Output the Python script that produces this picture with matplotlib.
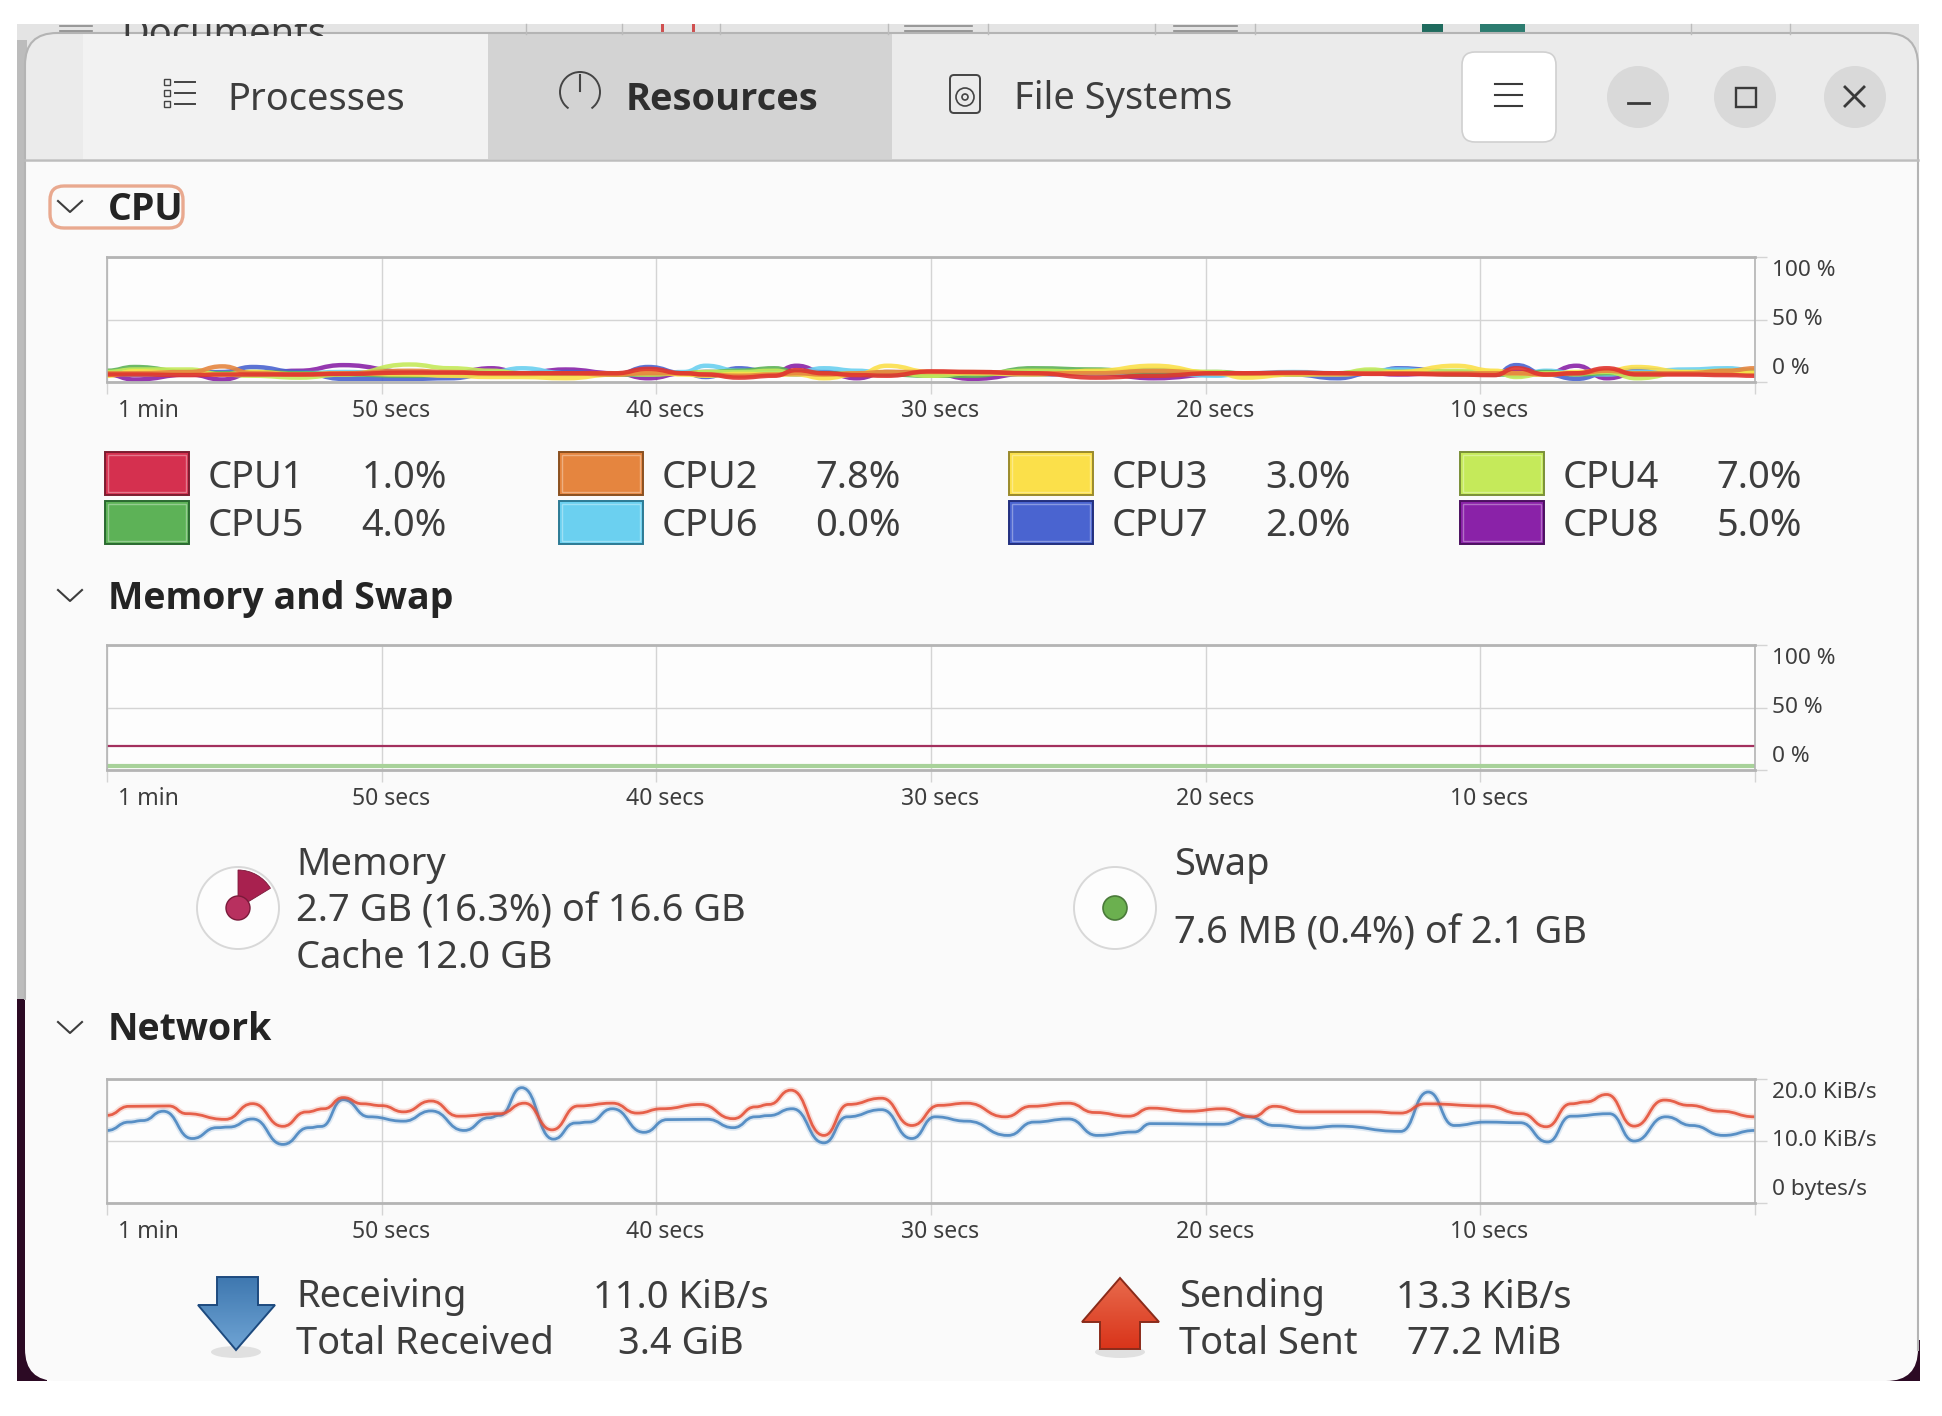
import numpy as np
import matplotlib
matplotlib.use('Agg')
import matplotlib.pyplot as plt
from matplotlib.path import Path
from matplotlib.patches import PathPatch, Rectangle, FancyBboxPatch, Circle, Wedge, Arc, Polygon, Ellipse

plt.rcParams['font.family'] = ['Noto Sans', 'DejaVu Sans']

W, H = 1942, 1416

# cpu history, percent
cpu_t = [-60, -59, -57, -55.8, -54.7, -53, -51.4, -49, -47.5, -46, -44.9, -43.3, -41.5, -40.3, -39,
         -38.2, -37, -35.7, -34.9, -33.9, -32.7, -31.6, -30, -28.5, -26.3, -24, -21.9, -19.6, -18.6,
         -16.8, -15.2, -14, -13, -10.9, -9.5, -8.7, -7.6, -6.5, -5.4, -4.3, -2.5, -1, 0]
cpu1 = [6, 6, 5.5, 6, 6, 6, 6.5, 7.5, 7.5, 7, 7, 7, 7, 10.5, 7, 6, 3.5, 5, 9.5, 7, 5.5, 5, 8.5, 8, 7, 3.5,
        5, 7, 7, 7.5, 7, 6.5, 6.5, 6, 5.5, 11, 6, 7, 11, 6, 6, 5.5, 5]
cpu2 = [7, 7, 8, 12.5, 7, 6, 7, 9, 8, 7, 7, 7, 6, 7, 7, 6, 5, 6, 7, 6, 7, 8, 8, 8, 7, 7, 9, 7, 7, 7, 7, 7, 7,
        7, 7, 7, 6, 7, 9, 7, 7, 9, 11]
cpu3 = [5, 8.5, 7, 6, 8, 6, 7, 6, 5, 4, 4, 3, 6, 8.5, 6, 5, 6.5, 6, 6, 3, 6, 13, 8, 7, 6, 9, 13, 7, 3.5, 6, 6,
        7, 8, 13, 9, 7, 6, 8, 9, 12, 8, 7, 7]
cpu4 = [8, 10, 10, 6, 5, 3.5, 6, 14, 11, 9, 7, 6, 7, 6, 7, 8, 8, 9, 7, 6, 7, 8, 5, 7, 9, 8, 10, 8, 6, 7, 7, 10,
        8, 9, 8, 4, 7, 7, 8, 3, 8, 9, 9]
cpu5 = [9, 12, 8, 7, 8, 7, 6, 5, 6, 6, 6, 7, 6, 6, 7, 8, 9, 11, 8, 7, 6, 6, 5, 5, 11, 10, 6, 8, 7, 6, 7, 8, 8,
        6, 6, 6, 8, 6, 7, 7, 7, 7, 8]
cpu6 = [6, 6, 7, 7, 6, 7, 8, 6, 7, 8, 11, 7, 6, 6, 8, 13, 9, 7, 8, 11, 9, 7, 7, 7, 8, 7, 8, 5, 7, 8, 7, 9, 10,
        7, 7, 5, 9, 7, 6, 8, 10, 11, 9]
cpu7 = [7, 6, 7, 8, 12, 8, 2.5, 2.5, 3, 7, 6, 8, 6, 12, 7, 4, 11, 7, 6, 8, 6, 7, 7, 7, 6, 7, 6, 7, 7, 6, 3, 7,
        11, 8, 6, 13.5, 6, 2.5, 7, 10, 8, 7, 7]
cpu8 = [6, 2, 6, 2, 7, 9, 13.5, 8, 7, 11, 7, 10, 7, 3, 7, 8, 7, 8, 13, 8, 3, 8, 7, 2.5, 7, 7, 3, 6, 7, 7, 7, 7,
        6, 8, 6, 8, 7, 13, 3, 7, 7, 8, 9]
cpu_series = [cpu1, cpu2, cpu3, cpu4, cpu5, cpu6, cpu7, cpu8]
cpu_names = ['CPU1', 'CPU2', 'CPU3', 'CPU4', 'CPU5', 'CPU6', 'CPU7', 'CPU8']
cpu_now = ['1.0%', '7.8%', '3.0%', '7.0%', '4.0%', '0.0%', '2.0%', '5.0%']
cpu_colors = ['#e0342f', '#e5853f', '#fbe04a', '#c5ea5a', '#5db257', '#6bd0f0', '#4a64d0', '#8a22a8']
leg_colors = ['#d5304f', '#e5853f', '#fbe04a', '#c5ea5a', '#5db257', '#6bd0f0', '#4a64d0', '#8a22a8']
cpu_edges = ['#7c1c30', '#8a5020', '#9a8a2c', '#7a9038', '#2a6a30', '#2c7a94', '#222f7e', '#4c1060']

# memory and swap history, percent
mem_t = [-60, 0]
mem_used = [19, 19]
swap_used = [3.5, 3.5]

# network history, KiB/s
sent_t = [-60, -59.2, -57.75, -57.1, -55.7, -54.7, -53.6, -52.75, -52.1, -51.4, -50.7, -50, -49.2, -48.2,
          -47.2, -45.7, -44.8, -43.8, -42.85, -41.6, -40.7, -39.8, -38.4, -37.2, -36.4, -35.9, -35.1, -33.9,
          -33, -31.8, -30.7, -29.7, -28.7, -27.3, -26.35, -25, -24.05, -22.8, -22, -20.6, -19.4, -18.3,
          -17.5, -16.5, -14, -12.9, -12, -9.8, -8.5, -7.6, -6.7, -6.15, -5.4, -4.4, -3.3, -2.4, -1.25, 0]
sent = [14.14, 15.59, 15.65, 14.41, 13.49, 16.02, 12.37, 14.68, 15.2, 17, 16, 15.7, 14.7, 16.45, 14, 14.4,
        16.1, 11.8, 15.65, 16.1, 14.5, 15.2, 15.9, 13.6, 15.5, 15.9, 18.2, 10.9, 15.9, 16.9, 12.5, 15.75,
        16.1, 13.9, 15.6, 16.1, 14.6, 14, 15.3, 14.8, 15.2, 13.9, 15.6, 14.7, 14.7, 14.5, 16, 15.65, 14.4,
        12.3, 16, 16.3, 17.5, 12.4, 16.6, 15.75, 14.8, 13.9]
recv_t = [-60, -59.2, -58.7, -57.95, -56.9, -56, -55.55, -54.7, -53.6, -52.65, -52.2, -51.4, -50.45, -49.2,
          -48.2, -47, -46.1, -45.7, -44.9, -43.75, -42.95, -42.45, -41.6, -40.45, -39.6, -38.15, -37.2,
          -36.4, -35.9, -35.05, -33.9, -33.05, -31.8, -30.7, -29.85, -28.7, -27.2, -26.25, -25, -23.95,
          -22.6, -22, -19.4, -18.45, -17.5, -16.25, -15.2, -12.9, -11.9, -10.95, -9.8, -8.55, -7.55, -6.7,
          -5.3, -4.4, -3.25, -2.3, -1.15, 0]
recv = [11.7, 13.05, 13.3, 14.8, 10.4, 12.15, 12.25, 13.55, 9.45, 12.15, 12.35, 16.65, 13.9, 13.2, 14.85,
        11.7, 13.75, 14.15, 18.6, 10.3, 12.9, 13.05, 15.2, 11.4, 13.45, 13.5, 12.15, 13.9, 14.1, 15.2, 9.7,
        13.9, 15.05, 10.4, 13.9, 13.2, 10.9, 13.05, 13.55, 10.9, 11.45, 12.8, 12.7, 13.9, 12.5, 12.1, 12.4,
        11.55, 17.9, 12.5, 13.05, 12.95, 9.85, 14, 14.4, 10, 13.9, 12.5, 10.9, 11.7]

time_ticks = [-60, -50, -40, -30, -20, -10, 0]
time_labels = ['1 min', '50 secs', '40 secs', '30 secs', '20 secs', '10 secs']
pct_ticks = [0, 50, 100]
pct_labels = ['0 %', '50 %', '100 %']
net_ticks = [0, 10, 20]
net_labels = ['0 bytes/s', '10.0 KiB/s', '20.0 KiB/s']

TXT = '#3d3d3d'
GRID = '#d4d4d4'
EDGE = '#b4b4b4'
BIG = 38

fig = plt.figure(figsize=(W / 100, H / 100), dpi=100, facecolor='white')
bg = fig.add_axes([0, 0, 1, 1])
bg.axis('off')


def px(v):
    return v * 0.72


def label(x, y, s, size=BIG, weight='normal', ha='left', color=TXT):
    fam = ['Open Sans', 'DejaVu Sans'] if weight == 'bold' else ['Noto Sans', 'DejaVu Sans']
    return bg.text(x, y + 2.5, s, fontsize=px(size), fontweight=weight, family=fam, ha=ha, va='center', color=color)


def smooth(t, v):
    # same curve the app draws: flat tangents at each sample
    verts = [(t[0], v[0])]
    codes = [Path.MOVETO]
    for i in range(1, len(t)):
        mid = (t[i - 1] + t[i]) / 2
        verts += [(mid, v[i - 1]), (mid, v[i]), (t[i], v[i])]
        codes += [Path.CURVE4] * 3
    return Path(verts, codes)


def make_graph(top, bottom, ymax, yticks, ylabels, offs):
    x0, x1 = 107, 1755
    ax = fig.add_axes([x0 / W, 1 - bottom / H, (x1 - x0) / W, (bottom - top) / H])
    ax.set_xlim(-60, 0)
    ax.set_ylim(0, ymax)
    ax.set_facecolor('#fdfdfd')
    for s in ax.spines.values():
        s.set_color(EDGE)
        s.set_linewidth(1.2)
    ax.spines['bottom'].set_linewidth(2)
    ax.spines['top'].set_linewidth(2)
    ax.set_xticks(time_ticks)
    ax.set_yticks(yticks)
    ax.tick_params(axis='x', length=8.5, width=1, color=GRID, labelbottom=False)
    ax.tick_params(axis='y', length=8.5, width=1, color=GRID, left=False, right=True, labelleft=False)
    ax.grid(True, color=GRID, lw=1)
    ax.set_axisbelow(True)
    for i, s in enumerate(time_labels):
        t = time_ticks[i]
        ha = 'left' if i == 0 else 'center'
        dx = 11 if i == 0 else 9
        ax.annotate(s, xy=(t, 0), xycoords=('data', 'axes fraction'), xytext=(dx, -29), textcoords='offset pixels',
                    fontsize=px(23), color=TXT, ha=ha, va='center', annotation_clip=False)
    for v, s, off in zip(yticks, ylabels, offs):
        ax.annotate(s, xy=(1, v / ymax), xycoords='axes fraction', xytext=(17, off), textcoords='offset pixels',
                    fontsize=px(22.6), color=TXT, ha='left', va='center', annotation_clip=False)
    return ax


def gradient_arrow(pts, top_col, bot_col, edge):
    ys = [p[1] for p in pts]
    xs = [p[0] for p in pts]
    cm = matplotlib.colors.LinearSegmentedColormap.from_list('a', [top_col, bot_col])
    im = bg.imshow(np.linspace(0, 1, 64).reshape(-1, 1), cmap=cm, aspect='auto',
                   extent=(min(xs), max(xs), max(ys), min(ys)), zorder=3)
    poly = Polygon(pts, fc='none', ec=edge, lw=1.4, zorder=4)
    bg.add_patch(poly)
    im.set_clip_path(poly)


# behind the window, top strip of another app
bg.add_patch(Rectangle((17, 24), 1902, 40, fc='#e4e4e4', ec='none'))
t = bg.text(121, 35, 'Documents', fontsize=px(BIG), color=TXT, va='center', clip_on=True)
t.set_clip_path(Rectangle((17, 24), 1902, 12, transform=bg.transData))
for x in [526, 622, 720, 888, 988, 1155, 1255, 1691, 1790]:
    bg.plot([x, x], [24, 34], color='#bcbcbc', lw=1)
for x0, x1 in [(60, 92), (905, 972), (1174, 1237)]:
    bg.plot([x0, x1], [26, 26], color='#8a8a8a', lw=1.2)
    bg.plot([x0, x1], [31, 31], color='#8a8a8a', lw=1.2)
for x0, x1, c in [(1422, 1443, '#1f6b5e'), (1480, 1525, '#2c7c70'), (661, 664, '#d05050'), (692, 695, '#d05050')]:
    bg.add_patch(Rectangle((x0, 24), x1 - x0, 9, fc=c, ec='none'))

# dark desktop peeking out at the bottom
bg.add_patch(Rectangle((17, 40), 10, 960, fc='#bcbcbc', ec='none'))
bg.add_patch(Rectangle((17, 999), 30, 382, fc='#2c0a24', ec='none'))
bg.add_patch(Rectangle((1880, 1340), 40, 41, fc='#2c0a24', ec='none'))

win = FancyBboxPatch((25, 33), 1893, 1348, boxstyle='round,pad=0,rounding_size=32', fc='#fafafa', ec='none')
bg.add_patch(win)
bars = [(25, 83, '#ebebeb'), (83, 488, '#f2f2f2'), (488, 892, '#d3d3d3'), (892, 1918, '#ebebeb')]
for x0, x1, c in bars:
    r = Rectangle((x0, 33), x1 - x0, 126, fc=c, ec='none')
    bg.add_patch(r)
    r.set_clip_path(win)
outline = FancyBboxPatch((25, 33), 1893, 1400, boxstyle='round,pad=0,rounding_size=32', fc='none', ec='#b4b4b4', lw=1.5)
bg.add_patch(outline)
outline.set_clip_path(Rectangle((0, 0), W, 1000, transform=bg.transData))
bg.plot([1918, 1918], [1000, 1350], color='#b4b4b4', lw=1.5)
bg.plot([25, 1918], [160, 160], color='#bdbdbd', lw=1.8)

# tabs
label(227, 97, 'Processes')
label(626, 97, 'Resources', weight='bold', color='#2e2e2e')
label(1014, 97, 'File Systems')
for y in [82, 93, 104]:
    bg.add_patch(Rectangle((164, y - 3), 6, 6, fc='none', ec='#444444', lw=1))
    bg.plot([175, 195], [y, y], color='#444444', lw=1.4)
bg.add_patch(Arc((580, 92), 40, 40, theta1=-235, theta2=55, color='#444444', lw=1.4))
bg.plot([580, 580], [75, 91], color='#444444', lw=1.5)
bg.add_patch(FancyBboxPatch((950, 75), 30, 38, boxstyle='round,pad=0,rounding_size=4', fc='none', ec='#444444', lw=1.4))
bg.add_patch(Circle((965, 97), 9, fc='none', ec='#444444', lw=1.2))
bg.add_patch(Circle((965, 97), 3, fc='none', ec='#444444', lw=1.2))

# header buttons
bg.add_patch(FancyBboxPatch((1462, 52), 94, 90, boxstyle='round,pad=0,rounding_size=13', fc='white', ec='#d0d0d0', lw=1.2))
for y in [84, 95, 106]:
    bg.plot([1495, 1522], [y, y], color='#3a3a3a', lw=1.5)
for x in [1638, 1745, 1855]:
    bg.add_patch(Circle((x, 97), 31, fc='#d9d9d9', ec='none'))
bg.plot([1628, 1649], [103, 103], color='#3a3a3a', lw=2)
bg.add_patch(Rectangle((1736, 88), 20, 19, fc='none', ec='#3a3a3a', lw=1.7))
bg.plot([1845, 1864], [87, 106], color='#3a3a3a', lw=2)
bg.plot([1845, 1864], [106, 87], color='#3a3a3a', lw=2)

# section headers
bg.add_patch(FancyBboxPatch((50, 186), 133, 42, boxstyle='round,pad=0,rounding_size=14', fc='none', ec='#e9a98f', lw=2.4))
for y, s in [(207, 'CPU'), (596, 'Memory and Swap'), (1028, 'Network')]:
    bg.plot([58, 70, 82], [y - 6, y + 5, y - 6], color='#3d3d3d', lw=1.5)
    label(108, y, s, 37.5, 'bold', color='#242424')

# cpu legend
leg_x = [105, 559, 1009, 1460]
leg_y = [473, 522]
for i in range(8):
    col = i % 4
    row = i // 4
    x = leg_x[col]
    y = leg_y[row]
    bg.add_patch(Rectangle((x, y - 21), 84, 43, fc=leg_colors[i], ec=cpu_edges[i], lw=1.4))
    bg.add_patch(Rectangle((x + 3, y - 18), 78, 37, fc='none', ec='white', lw=1, alpha=0.35))
    label(x + 103, y + 2, cpu_names[i])
    label(x + 342, y + 2, cpu_now[i], ha='right')

# memory and swap readouts
bg.add_patch(Circle((238, 908), 41, fc='#fdfdfd', ec='#d8d8d8', lw=1.4))
bg.add_patch(Wedge((238, 908), 38, -90, -90 + 0.163 * 360, fc='#a8214f', ec='#7a1a3a', lw=0.6))
bg.add_patch(Circle((238, 908), 12, fc='#b8305f', ec='#7a1a3a', lw=1))
label(296, 862, 'Memory')
label(296, 909, '2.7 GB (16.3%) of 16.6 GB')
label(296, 955, 'Cache 12.0 GB')
bg.add_patch(Circle((1115, 908), 41, fc='#fdfdfd', ec='#d8d8d8', lw=1.4))
bg.add_patch(Circle((1115, 908), 12, fc='#6bb04f', ec='#4a7a3a', lw=1.2))
label(1174, 862, 'Swap')
label(1174, 931, '7.6 MB (0.4%) of 2.1 GB')

# network readouts
bg.add_patch(Ellipse((236, 1352), 50, 12, fc='#d6d6d6', ec='none', alpha=0.7))
gradient_arrow([(217, 1277), (258, 1277), (258, 1305), (275, 1305), (236, 1350), (198, 1305), (217, 1305)],
               '#3f78b0', '#6fa4d4', '#1d4a7e')
bg.add_patch(Ellipse((1120, 1352), 50, 12, fc='#d6d6d6', ec='none', alpha=0.7))
gradient_arrow([(1120, 1278), (1159, 1322), (1140, 1322), (1140, 1349), (1100, 1349), (1100, 1322), (1082, 1322)],
               '#e86a4c', '#d9341a', '#8a2b1a')
label(296, 1295, 'Receiving')
label(296, 1341, 'Total Received')
label(681, 1295, '11.0 KiB/s', ha='center')
label(681, 1341, '3.4 GiB', ha='center')
label(1179, 1295, 'Sending')
label(1179, 1341, 'Total Sent')
label(1484, 1295, '13.3 KiB/s', ha='center')
label(1484, 1341, '77.2 MiB', ha='center')

bg.set_xlim(0, W)
bg.set_ylim(H, 0)

# cpu graph
ax = make_graph(257, 382, 100, pct_ticks, pct_labels, [13, 0, -13])
for i in range(7, -1, -1):
    ax.add_patch(PathPatch(smooth(cpu_t, cpu_series[i]), fc='none', ec=cpu_colors[i], lw=3.2, alpha=0.9))

# memory graph
ax = make_graph(645, 770, 100, pct_ticks, pct_labels, [13, 0, -13])
ax.plot(mem_t, mem_used, color='#a3305e', lw=1.6)
ax.plot(mem_t, swap_used, color='#a8d29a', lw=3)

# network graph
ax = make_graph(1079, 1203, 20, net_ticks, net_labels, [13, 0, -13])
for tt, vv, c in [(recv_t, recv, '#4a86c0'), (sent_t, sent, '#e4523a')]:
    ax.add_patch(PathPatch(smooth(tt, vv), fc='none', ec=c, lw=4.5, alpha=0.18))
    ax.add_patch(PathPatch(smooth(tt, vv), fc='none', ec=c, lw=2, alpha=0.9))

fig.savefig('out.png', dpi=100, facecolor='white')
